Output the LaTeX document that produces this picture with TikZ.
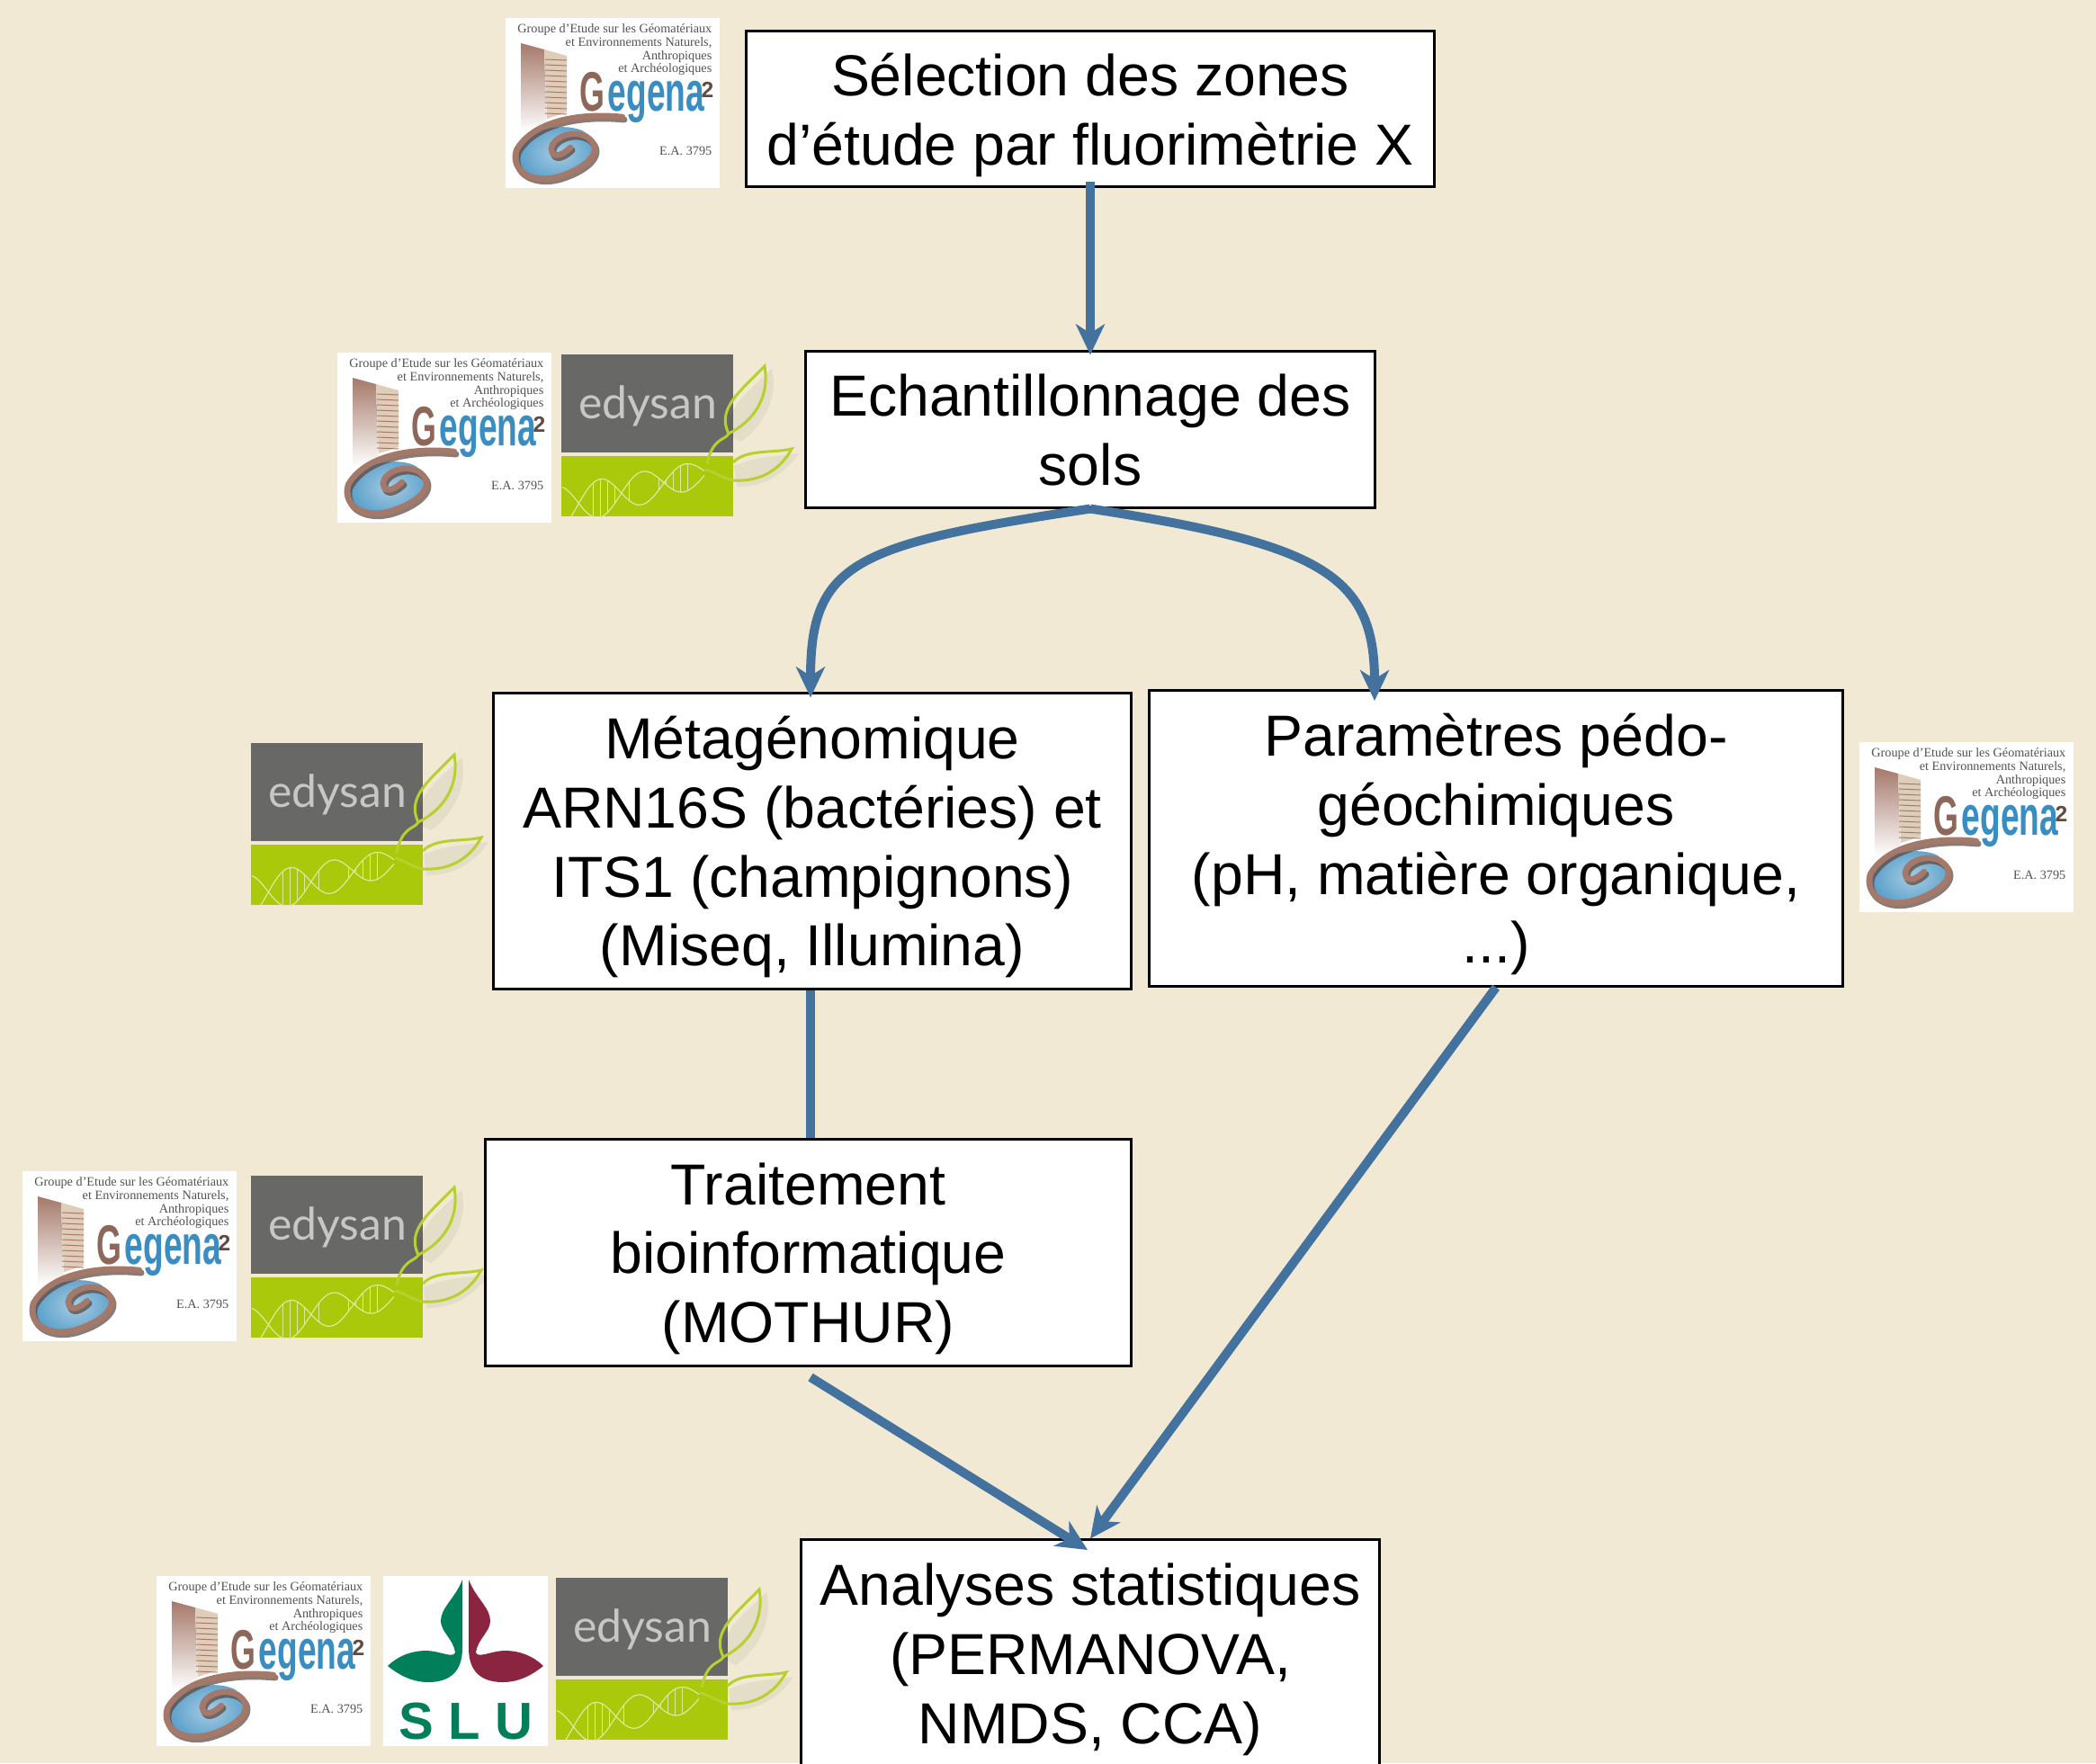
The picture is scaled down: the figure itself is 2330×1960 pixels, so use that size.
\documentclass[tikz,border=0pt]{standalone}
\usepackage{fontspec}
\setmainfont{Liberation Sans}
\newfontfamily\gegenafont{Liberation Serif}
\newfontfamily\edysanfont{Lato}
\usetikzlibrary{arrows.meta, positioning}

\definecolor{fondcolor}{HTML}{F1E9D3}
\definecolor{flechecolor}{HTML}{44729F}
\definecolor{briquecolor}{HTML}{A5796A}
\definecolor{gegenablue}{HTML}{3A8DC0}
\definecolor{edysangris}{HTML}{686866}
\definecolor{edysanvert}{HTML}{A9C90A}
\definecolor{slugreen}{HTML}{007F5A}
\definecolor{slured}{HTML}{8A2440}

\newcommand{\sluleafpath}{(88,4) -- (88,80) .. controls (88,100) and (80,118) .. (50,118) .. controls (30,118) and (15,108) .. (5,100) .. controls (15,90) and (30,83) .. (48,83) .. controls (62,83) and (78,92) .. (80,85) .. controls (78,70) and (64,62) .. (64,50) .. controls (64,35) and (80,25) .. (88,4) -- cycle}

\tikzset{
  etape/.style={draw=black, fill=white, line width=0.03cm, align=center, inner sep=0pt, text depth=0pt,
    font=\fontsize{18.3}{21.8}\selectfont},
  fleche/.style={draw=flechecolor, line width=0.1cm, -{Stealth[length=0.34cm, width=0.32cm, inset=0.1cm]}},
  trait/.style={draw=flechecolor, line width=0.1cm},
  gegenatexte/.style={anchor=base east, inner sep=0pt, text=black!68, font=\gegenafont\fontsize{4.05}{4.2}\selectfont},
  pics/gegena/.style={code={
    \fill[white] (0,0) rectangle (238,189);
    \foreach \i/\ligne/\y in {1/{Groupe d’Etude sur les Géomatériaux}/16, 2/{et Environnements Naturels,}/31, 3/{Anthropiques}/46, 4/{et Archéologiques}/60}
      \node[gegenatexte] (-l\i) at (230,\y) {\ligne};
    \node[gegenatexte] (-ea) at (230,152) {E.A. 3795};
    % immeuble
    \shade[top color=briquecolor, bottom color=white] (17,28) -- (43,35) -- (46,127) -- (17,127) -- cycle;
    \fill[briquecolor!25!fondcolor] (43,35) -- (68,42) -- (68,105) -- (46,112) -- cycle;
    \foreach \y in {46,52,...,106}
      \draw[briquecolor, line width=0.01cm] (44,\y) -- (68,\y+1);
    % sigle
    \node[anchor=base west, inner sep=0pt, text=briquecolor!85!black, font=\bfseries\fontsize{17.6}{18}\selectfont] (-initiale) at (82,103) {\scalebox{0.58}[1]{G}};
    \node[anchor=base west, inner sep=0pt, text=gegenablue, font=\bfseries\fontsize{17.6}{18}\selectfont] (-sigle) at (113,103) {\scalebox{0.6}[1]{egena}};
    \node[anchor=base east, inner sep=0pt, text=briquecolor!60!black, font=\bfseries\fontsize{7}{7}\selectfont] (-exposant) at (232,88) {2};
    % spirale
    \shade[inner color=gegenablue!45!white, outer color=gegenablue!85!white] (15,150) .. controls (20,125) and (60,115) .. (85,125) .. controls (105,135) and (100,165) .. (60,178) .. controls (30,185) and (12,170) .. (15,150) -- cycle;
    \draw[briquecolor!55!black, opacity=0.7, line width=0.07cm, line cap=round, shift={(2,3)}] (130,110) .. controls (80,105) and (30,115) .. (12,147) .. controls (5,170) and (30,185) .. (60,176) .. controls (95,165) and (110,145) .. (90,132) .. controls (70,122) and (45,138) .. (52,150) .. controls (56,156) and (66,150) .. (72,144);
    \draw[briquecolor, line width=0.065cm, line cap=round] (130,110) .. controls (80,105) and (30,115) .. (12,147) .. controls (5,170) and (30,185) .. (60,176) .. controls (95,165) and (110,145) .. (90,132) .. controls (70,122) and (45,138) .. (52,150) .. controls (56,156) and (66,150) .. (72,144);
  }},
  pics/edysan/.style={code={
    \fill[edysangris] (0,0) rectangle (191,109);
    \fill[edysanvert] (0,113) rectangle (191,180);
    \node[inner sep=0pt, text=black!22, font=\edysanfont\fontsize{14.2}{15}\selectfont] (-nom) at (96,57) {edysan};
    % adn
    \begin{scope}
      \clip (0,113) rectangle (191,180);
      \foreach \s in {0,180}
        \draw[white!60!edysanvert, line width=0.012cm] plot[domain=0:1, samples=50, smooth] ({1+158*\x},{170-38*\x-(24-10*\x)*sin(600*\x-70+\s)});
      \foreach \x in {0.22,0.27,...,0.48,0.68,0.73,...,0.93}
        \draw[white!60!edysanvert, line width=0.01cm] ({1+158*\x},{170-38*\x-(24-10*\x)*sin(600*\x-70)}) -- ({1+158*\x},{170-38*\x-(24-10*\x)*sin(600*\x+110)});
    \end{scope}
    % feuilles
    \fill[black, opacity=0.05] (192,124) .. controls (220,112) and (240,114) .. (264,110) .. controls (250,132) and (225,148) .. (195,147) -- cycle;
    \fill[black, opacity=0.05] (190,92) .. controls (178,60) and (208,42) .. (234,16) .. controls (242,50) and (222,82) .. (200,97) -- cycle;
    \draw[edysanvert!85!white, line width=0.03cm] (162,122) .. controls (168,92) and (182,96) .. (186,88) .. controls (172,60) and (200,40) .. (226,13) .. controls (232,50) and (212,75) .. (186,88);
    \draw[edysanvert!85!white, line width=0.03cm] (191,120) .. controls (205,105) and (235,110) .. (256,105) .. controls (245,125) and (225,142) .. (191,140) .. controls (180,138) and (170,130) .. (160,128);
  }},
  pics/slu/.style={code={
    \fill[white] (0,0) rectangle (183,189);
    \fill[slugreen] \sluleafpath;
    \begin{scope}[shift={(183,0)}, xscale=-1]
      \fill[slured] \sluleafpath;
    \end{scope}
    \node[inner sep=0pt, text=slugreen, font=\bfseries\fontsize{16.5}{17}\selectfont] (-nom) at (92,161) {S\hspace{0.28em}L\hspace{0.28em}U};
  }}
}

\begin{document}
\begin{tikzpicture}[x=0.01cm, y=-0.01cm]
  \useasboundingbox (0,0) rectangle (2330,1960);
  \fill[fondcolor] (0,0) rectangle (2330,1960);
  \clip (0,0) rectangle (2330,1960);

  % logos
  \pic (gegenaA) at (562,20) {gegena};
  \pic (gegenaB) at (375,392) {gegena};
  \pic (edysanB) at (624,394) {edysan};
  \pic (edysanC) at (279,826) {edysan};
  \pic (gegenaC) at (2067,825) {gegena};
  \pic (gegenaD) at (25,1302) {gegena};
  \pic (edysanD) at (279,1307) {edysan};
  \pic (gegenaE) at (174,1752) {gegena};
  \pic (sluE) at (426,1752) {slu};
  \pic (edysanE) at (618,1754) {edysan};

  % etapes
  \node[etape, minimum width=7.64cm, minimum height=1.72cm] (selection) at (1212,121) {Sélection des zones\\d’étude par fluorimètrie X};
  \node[etape, minimum width=6.33cm, minimum height=1.73cm] (echantillon) at (1212,477.5) {Echantillonnage des\\sols};
  \node[etape, minimum width=7.09cm, minimum height=3.28cm] (metagenomique) at (903,935) {Métagénomique\\ARN16S (bactéries) et\\ITS1 (champignons)\\(Miseq, Illumina)};
  \node[etape, minimum width=7.70cm, minimum height=3.28cm] (parametres) at (1663,932) {Paramètres pédo-\\géochimiques\\(pH, matière organique,\\...)};
  \node[etape, minimum width=7.18cm, minimum height=2.51cm] (traitement) at (898.5,1392.5) {Traitement\\bioinformatique\\(MOTHUR)};
  \node[etape, minimum width=6.42cm, minimum height=2.52cm] (statistiques) at (1212,1838) {Analyses statistiques\\(PERMANOVA,\\NMDS, CCA)};

  \coordinate (parametresIn) at (1528,779);
  \coordinate (traitementOut) at (901,1531);
  \coordinate (statistiquesIn) at (1209,1723);

  % liaisons
  \draw[fleche] ([yshift=0.07cm]selection.south) -- ([yshift=-0.05cm]echantillon.north);
  \draw[fleche] (echantillon.south) .. controls (950,605) and (901,625) .. ([yshift=-0.06cm, xshift=-0.02cm]metagenomique.north);
  \draw[fleche] (echantillon.south) .. controls (1470,605) and (1528,640) .. (parametresIn);
  \draw[trait] ([xshift=-0.02cm]metagenomique.south) -- ([xshift=-0.02cm]metagenomique.south |- traitement.north);
  \draw[fleche] (parametres.south) -- (statistiques.north);
  \draw[fleche] (traitementOut) -- (statistiquesIn);
\end{tikzpicture}
\end{document}
